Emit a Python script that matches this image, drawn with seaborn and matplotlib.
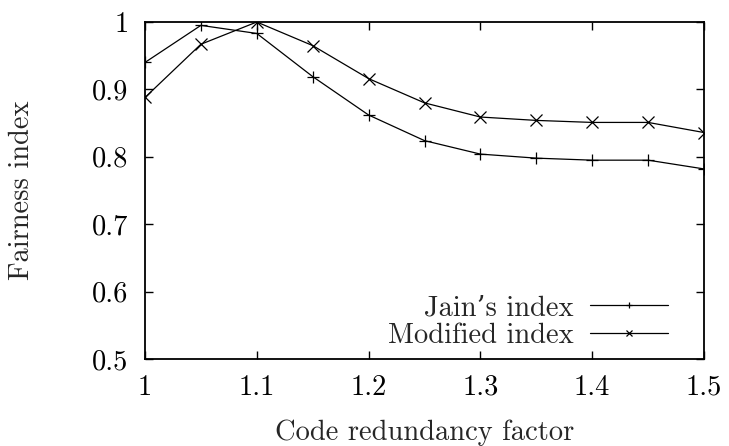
import matplotlib
matplotlib.use("Agg")
import matplotlib.pyplot as plt
import seaborn as sns
import pandas as pd

# Code redundancy factor sweep
redundancy = [1.0, 1.05, 1.1, 1.15, 1.2, 1.25, 1.3, 1.35, 1.4, 1.45, 1.5]
jain_index = [0.940, 0.995, 0.983, 0.919, 0.862, 0.824, 0.804, 0.798, 0.795, 0.795, 0.782]
modified_index = [0.888, 0.967, 1.000, 0.965, 0.916, 0.880, 0.859, 0.854, 0.851, 0.851, 0.836]

series_names = ["Jain\u2019s index", "Modified index"]
x_ticks = [1.0, 1.1, 1.2, 1.3, 1.4, 1.5]
x_tick_labels = ["1", "1.1", "1.2", "1.3", "1.4", "1.5"]
y_ticks = [0.5, 0.6, 0.7, 0.8, 0.9, 1.0]
y_tick_labels = ["0.5", "0.6", "0.7", "0.8", "0.9", "1"]

sns.set_theme(style="ticks")
plt.rcParams["font.family"] = ["cmr10", "DejaVu Serif"]
plt.rcParams["mathtext.fontset"] = "cm"
plt.rcParams["axes.formatter.use_mathtext"] = True
plt.rcParams["axes.unicode_minus"] = False

FS = 20.5

df = pd.DataFrame({
    "x": redundancy * 2,
    "y": jain_index + modified_index,
    "series": [series_names[0]] * len(redundancy) + [series_names[1]] * len(redundancy),
})

fig = plt.figure(figsize=(7.29, 4.46), dpi=100)
ax = fig.add_axes([145 / 729, 1 - 359 / 446, (704 - 145) / 729, (359 - 22) / 446])

for name, mk in zip(series_names, ["+", "x"]):
    sns.lineplot(data=df[df["series"] == name], x="x", y="y", ax=ax,
                 color="black", linewidth=0.9, marker=mk, markersize=8,
                 markeredgewidth=0.9, markeredgecolor="black", label=name)

ax.set_xlim(1.0, 1.5)
ax.set_ylim(0.5, 1.0)
ax.set_xticks(x_ticks)
ax.set_xticklabels(x_tick_labels)
ax.set_yticks(y_ticks)
ax.set_yticklabels(y_tick_labels)
ax.tick_params(direction="in", length=6, width=1.0, top=True, right=True,
               labelsize=FS, colors="black")
ax.tick_params(axis="x", pad=11)
ax.tick_params(axis="y", pad=12)
for sp in ax.spines.values():
    sp.set_linewidth(1.3)
    sp.set_color("black")
    sp.set_visible(True)

ax.set_xlabel("Code redundancy factor", fontsize=FS)
ax.set_ylabel("Fairness index", fontsize=FS)
ax.xaxis.set_label_coords(0.5, (359 - 420) / 337)
ax.yaxis.set_label_coords((35 - 145) / 559, 0.5)

leg = ax.legend(loc="lower right", frameon=False, markerfirst=False,
                fontsize=FS, handlelength=2.73, handletextpad=0.6,
                labelspacing=0.05, borderaxespad=0.0, borderpad=0.0,
                markerscale=0.6, bbox_to_anchor=((668 - 145) / 559, 0.03))
for t in leg.get_texts():
    t.set_ha("right")

fig.savefig("out.png", dpi=100)
